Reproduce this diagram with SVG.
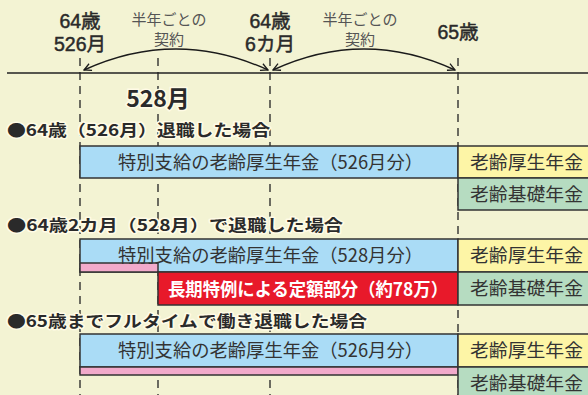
<svg xmlns="http://www.w3.org/2000/svg" width="588" height="395" viewBox="0 0 588 395">
<style>
text{font-family:"Noto Sans CJK JP","Noto Sans",sans-serif;fill:#2a2a2a}
.top{font-family:"Liberation Sans","Noto Sans CJK JP",sans-serif;font-size:19.5px;text-anchor:middle;stroke:#2a2a2a;stroke-width:0.5}
.lbl{font-size:15px;fill:#555;text-anchor:middle}
.hd{font-size:16px;font-weight:bold;stroke:#fffbe6;stroke-width:3;paint-order:stroke;stroke-linejoin:round}
.bar{font-size:18.5px;fill:#333}
.dash{stroke:#222;stroke-width:1.3;stroke-dasharray:8 6;fill:none}
.box{stroke:#333;stroke-width:1.5}
.blue{fill:#aadcf6}.yel{fill:#fdf5a6}.grn{fill:#b6dcc1}.pink{fill:#f2aacb}.red{fill:#e8192a}
.arc{fill:none;stroke:#1a1a1a;stroke-width:1.4}
</style>
<defs>
<marker id="ah" viewBox="0 0 10 10" refX="9" refY="5" markerWidth="9" markerHeight="9" orient="auto-start-reverse" markerUnits="userSpaceOnUse">
<path d="M1,1 L9,5 L1,9" fill="none" stroke="#1a1a1a" stroke-width="1.4"/>
</marker>
</defs>
<rect width="588" height="395" fill="#f3f3d3"/>
<g id="connectors">
<line x1="7" y1="73" x2="588" y2="73" stroke="#222" stroke-width="1.3"/>
<line class="dash" x1="80" y1="58" x2="80" y2="395"/>
<line class="dash" x1="158" y1="58" x2="158" y2="395"/>
<line class="dash" x1="270" y1="58" x2="270" y2="395"/>
<line class="dash" x1="458" y1="58" x2="458" y2="395"/>
<path class="arc" d="M84,70 Q176,28 268,70" marker-start="url(#ah)" marker-end="url(#ah)"/>
<path class="arc" d="M273,70 Q364,28 455,70" marker-start="url(#ah)" marker-end="url(#ah)"/>
</g>
<g id="timeline-labels">
<text class="top"><tspan x="80" y="28">64歳</tspan><tspan x="80" y="51">526月</tspan></text>
<text class="top"><tspan x="270" y="28">64歳</tspan><tspan x="270" y="51">6カ月</tspan></text>
<text class="top" x="458" y="39">65歳</text>
<text class="lbl"><tspan x="169" y="25">半年ごとの</tspan><tspan x="169" y="45">契約</tspan></text>
<text class="lbl"><tspan x="360" y="25">半年ごとの</tspan><tspan x="360" y="45">契約</tspan></text>
<text x="158" y="107" font-size="23" font-weight="bold" text-anchor="middle" stroke="#fffbe6" stroke-width="3" paint-order="stroke">528月</text>
</g>
<g id="case1">
<text class="hd" x="7" y="136" textLength="263" lengthAdjust="spacingAndGlyphs">●64歳（526月）退職した場合</text>
<rect class="box blue" x="80" y="146" width="378" height="32"/>
<text class="bar" x="118" y="169" textLength="305" lengthAdjust="spacingAndGlyphs">特別支給の老齢厚生年金（526月分）</text>
<rect class="box yel" x="458" y="146" width="132" height="32"/>
<text class="bar" x="470" y="169" textLength="113" lengthAdjust="spacingAndGlyphs">老齢厚生年金</text>
<rect class="box grn" x="458" y="178" width="132" height="32"/>
<text class="bar" x="470" y="201" textLength="113" lengthAdjust="spacingAndGlyphs">老齢基礎年金</text>
</g>
<g id="case2">
<text class="hd" x="7" y="231" textLength="336" lengthAdjust="spacingAndGlyphs">●64歳2カ月（528月）で退職した場合</text>
<rect class="box blue" x="80" y="239" width="378" height="33"/>
<rect class="box pink" x="80" y="263" width="78" height="9"/>
<text class="bar" x="118" y="262" textLength="305" lengthAdjust="spacingAndGlyphs">特別支給の老齢厚生年金（528月分）</text>
<rect class="box red" x="158" y="272" width="300" height="33"/>
<text x="168" y="296" font-size="18" font-weight="bold" style="fill:#fff" textLength="280" lengthAdjust="spacingAndGlyphs">長期特例による定額部分（約78万）</text>
<rect class="box yel" x="458" y="239" width="132" height="33"/>
<text class="bar" x="470" y="262" textLength="113" lengthAdjust="spacingAndGlyphs">老齢厚生年金</text>
<rect class="box grn" x="458" y="272" width="132" height="33"/>
<text class="bar" x="470" y="295" textLength="113" lengthAdjust="spacingAndGlyphs">老齢基礎年金</text>
</g>
<g id="case3">
<text class="hd" x="7" y="327" textLength="360" lengthAdjust="spacingAndGlyphs">●65歳までフルタイムで働き退職した場合</text>
<rect class="box blue" x="80" y="334" width="378" height="33"/>
<rect class="box pink" x="80" y="367" width="378" height="8"/>
<text class="bar" x="118" y="357" textLength="305" lengthAdjust="spacingAndGlyphs">特別支給の老齢厚生年金（526月分）</text>
<rect class="box yel" x="458" y="334" width="132" height="33"/>
<text class="bar" x="470" y="357" textLength="113" lengthAdjust="spacingAndGlyphs">老齢厚生年金</text>
<rect class="box grn" x="458" y="367" width="132" height="33"/>
<text class="bar" x="470" y="390" textLength="113" lengthAdjust="spacingAndGlyphs">老齢基礎年金</text>
</g>
</svg>
